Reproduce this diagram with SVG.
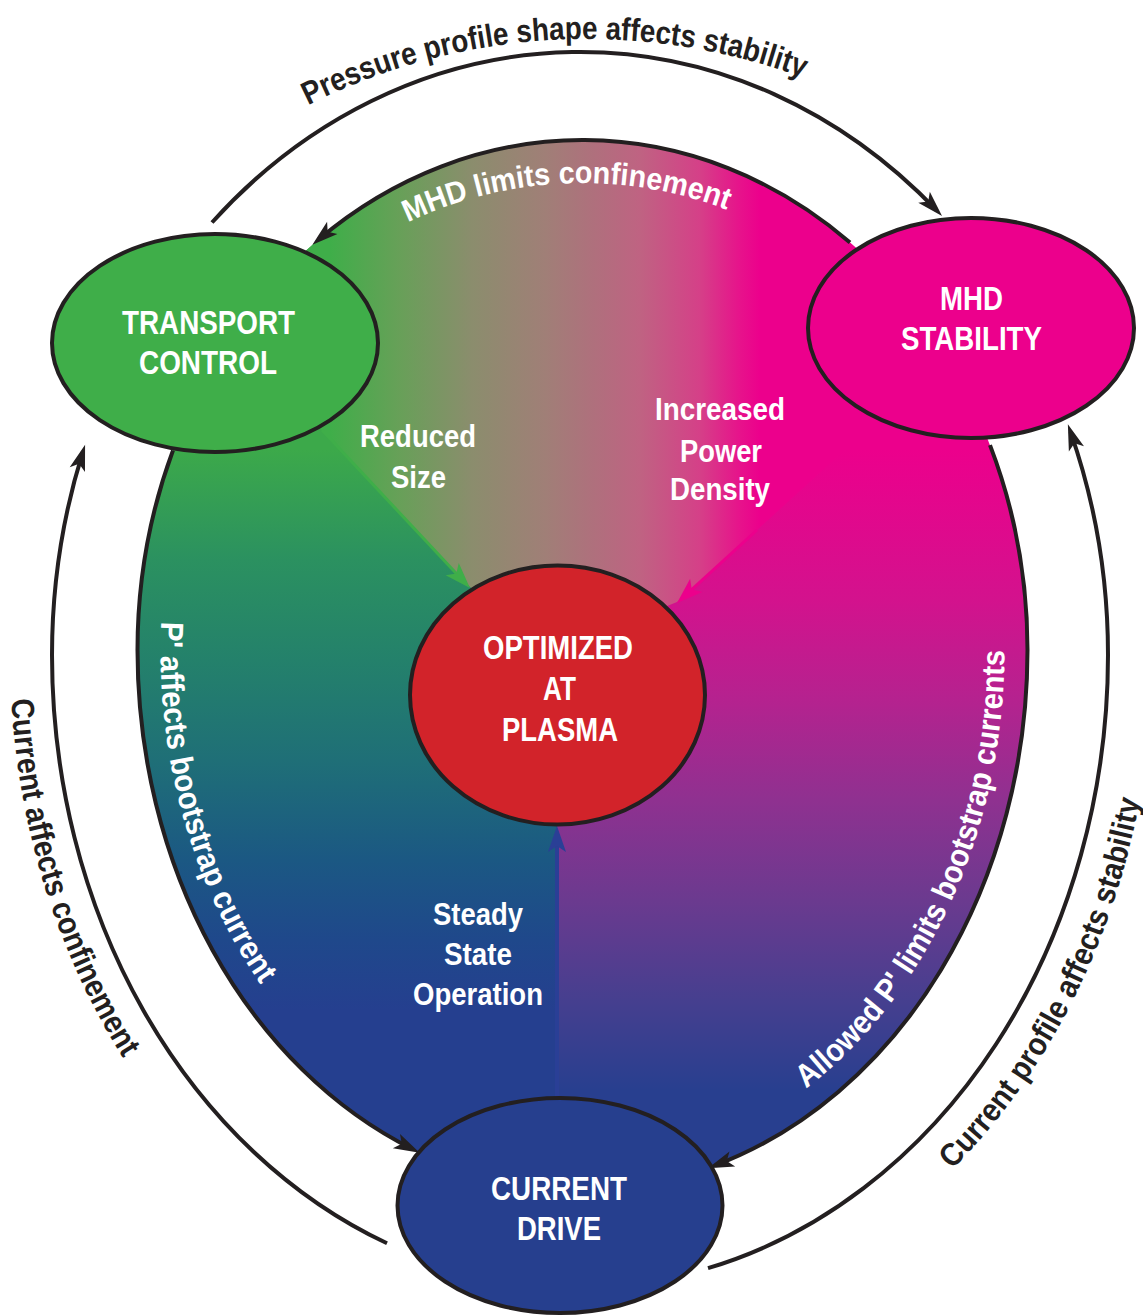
<svg xmlns="http://www.w3.org/2000/svg" width="1143" height="1316" viewBox="0 0 1143 1316">
  <defs>
    <style>
      .node { stroke: #231f20; stroke-width: 4; }
      .label { font-family: "Liberation Sans", Arial, sans-serif; font-weight: bold; font-size: 33px; fill: #ffffff; text-anchor: middle; }
      .inner { font-family: "Liberation Sans", Arial, sans-serif; font-weight: bold; font-size: 31px; fill: #ffffff; text-anchor: middle; }
      .arc { fill: none; stroke: #231f20; stroke-width: 4; marker-end: url(#head); }
      .curved { font-family: "Liberation Sans", Arial, sans-serif; font-weight: bold; font-size: 32px; }
      .dark { fill: #231f20; }
      .light { fill: #ffffff; }
    </style>

    <!-- arrowheads: tip sits 8px past the end of the line -->
    <marker id="head" markerUnits="userSpaceOnUse" viewBox="-20 -10 30 20" markerWidth="30" markerHeight="20" refX="0" refY="0" orient="auto">
      <path d="M8,0 L-18,-8 L-12,0 L-18,8 Z" fill="#231f20"/>
    </marker>
    <marker id="headG" markerUnits="userSpaceOnUse" viewBox="-20 -10 30 20" markerWidth="30" markerHeight="20" refX="0" refY="0" orient="auto">
      <path d="M8,0 L-18,-9 L-12,0 L-18,9 Z" fill="#3fae49"/>
    </marker>
    <marker id="headM" markerUnits="userSpaceOnUse" viewBox="-20 -10 30 20" markerWidth="30" markerHeight="20" refX="0" refY="0" orient="auto">
      <path d="M8,0 L-18,-9 L-12,0 L-18,9 Z" fill="#ec008c"/>
    </marker>
    <marker id="headB" markerUnits="userSpaceOnUse" viewBox="-20 -10 30 20" markerWidth="30" markerHeight="20" refX="0" refY="0" orient="auto">
      <path d="M8,0 L-18,-9 L-12,0 L-18,9 Z" fill="#2a3f96"/>
    </marker>

    <!-- background shading of the three sectors -->
    <linearGradient id="gTop" gradientUnits="userSpaceOnUse" x1="330" y1="0" x2="760" y2="0">
      <stop offset="0" stop-color="#3fae49"/>
      <stop offset="0.16" stop-color="#67a058"/>
      <stop offset="0.33" stop-color="#8b8d6d"/>
      <stop offset="0.5" stop-color="#a07f77"/>
      <stop offset="0.62" stop-color="#b06f7d"/>
      <stop offset="0.72" stop-color="#bf6382"/>
      <stop offset="0.86" stop-color="#d54088"/>
      <stop offset="0.95" stop-color="#e6148b"/>
      <stop offset="1" stop-color="#ec008c"/>
    </linearGradient>
    <linearGradient id="gLeft" gradientUnits="userSpaceOnUse" x1="0" y1="450" x2="0" y2="1010">
      <stop offset="0" stop-color="#3ca94a"/>
      <stop offset="0.196" stop-color="#2b9160"/>
      <stop offset="0.375" stop-color="#24816b"/>
      <stop offset="0.554" stop-color="#1f6f77"/>
      <stop offset="0.732" stop-color="#1b5883"/>
      <stop offset="0.875" stop-color="#1f488b"/>
      <stop offset="1" stop-color="#253f8f"/>
    </linearGradient>
    <linearGradient id="gRight" gradientUnits="userSpaceOnUse" x1="0" y1="450" x2="0" y2="1090">
      <stop offset="0" stop-color="#ec008c"/>
      <stop offset="0.234" stop-color="#d3128d"/>
      <stop offset="0.39" stop-color="#b5228f"/>
      <stop offset="0.547" stop-color="#8f3190"/>
      <stop offset="0.703" stop-color="#6b3a8f"/>
      <stop offset="0.859" stop-color="#463f8f"/>
      <stop offset="1" stop-color="#283f8f"/>
    </linearGradient>

    <clipPath id="ovalClip">
      <path d="M137.5,650 A445,510 0 0 1 1027.5,650 A445,540 0 0 1 137.5,650 Z"/>
    </clipPath>

    <!-- baselines for the curved captions -->
    <path id="pPressure" d="M-34,660 A621,621 0 0 1 1208,660"/>
    <path id="pMhdConf" d="M175,590 A407,407 0 0 1 989,590"/>
    <path id="pPprime" d="M197.7,450 A422,487 0 0 0 160.5,650 A422,517 0 0 0 582.5,1167"/>
    <path id="pAllowed" d="M582.5,1167 A422,517 0 0 0 1004.5,650 A422,487 0 0 0 967.3,450"/>
    <path id="pCurConf" d="M38.1,455 A570,645 0 0 0 10,655 A570,674 0 0 0 580,1329"/>
    <path id="pCurStab" d="M580,1332 A573,677 0 0 0 1153,655 A573,648 0 0 0 1106,455"/>
  </defs>

  <rect x="0" y="0" width="1143" height="1316" fill="#ffffff"/>

  <!-- shaded oval: lower-left and lower-right halves laid first, upper sector on top -->
  <g id="oval-fill" clip-path="url(#ovalClip)">
    <rect x="0" y="0" width="560" height="1316" fill="url(#gLeft)"/>
    <rect x="557" y="0" width="586" height="1316" fill="url(#gRight)"/>
    <path d="M0,0 H1143 V300 L990,300 L880,418 L757,530 L677,602 L558,650 L470,587 L322,430 L215,343 L0,343 Z" fill="url(#gTop)"/>
  </g>

  <g id="connectors">
    <!-- inner arrows into the central node -->
    <path d="M322,430 L464.5,582.2" fill="none" stroke="#3fae49" stroke-width="3" marker-end="url(#headG)"/>
    <path d="M757,530 L682.9,597.6" fill="none" stroke="#ec008c" stroke-width="3" marker-end="url(#headM)"/>
    <path d="M557,1098 L557,834" fill="none" stroke="#2a3f96" stroke-width="4" marker-end="url(#headB)"/>

    <!-- inner oval arcs -->
    <path class="arc" d="M850,242.5 A445,510 0 0 0 318.5,239.5"/>
    <path class="arc" d="M173,450.4 A445,510 0 0 0 137.5,650 A445,540 0 0 0 412.5,1149.1"/>
    <path class="arc" d="M990,445.1 A445,510 0 0 1 1027.5,650 A445,540 0 0 1 715.5,1165.3"/>

    <!-- outer arcs -->
    <path class="arc" d="M212,222.5 A528,603 0 0 1 936.5,210.2"/>
    <path class="arc" d="M387,1243.3 A528,632 0 0 1 52,655 A528,603 0 0 1 82.7,452.4"/>
    <path class="arc" d="M708,1268.2 A528,632 0 0 0 1108,655 A528,603 0 0 0 1070.5,431.8"/>

    <!-- connector captions -->
    <text class="curved dark"><textPath href="#pPressure" startOffset="941" text-anchor="middle" textLength="510" lengthAdjust="spacingAndGlyphs">Pressure profile shape affects stability</textPath></text>
    <text class="curved light" style="font-size:31px"><textPath href="#pMhdConf" startOffset="623" text-anchor="middle" textLength="328" lengthAdjust="spacingAndGlyphs">MHD limits confinement</textPath></text>
    <text class="curved light"><textPath href="#pPprime" startOffset="176" textLength="383" lengthAdjust="spacingAndGlyphs">P' affects bootstrap current</textPath></text>
    <text class="curved light"><textPath href="#pAllowed" startOffset="241" textLength="498" lengthAdjust="spacingAndGlyphs">Allowed P' limits bootstrap currents</textPath></text>
    <text class="curved dark"><textPath href="#pCurConf" startOffset="247" textLength="380" lengthAdjust="spacingAndGlyphs">Current affects confinement</textPath></text>
    <text class="curved dark"><textPath href="#pCurStab" startOffset="417" textLength="421" lengthAdjust="spacingAndGlyphs">Current profile affects stability</textPath></text>

    <text class="inner" x="418" y="447" textLength="116" lengthAdjust="spacingAndGlyphs">Reduced</text>
    <text class="inner" x="418.5" y="488" textLength="55" lengthAdjust="spacingAndGlyphs">Size</text>
    <text class="inner" x="720" y="420" textLength="130" lengthAdjust="spacingAndGlyphs">Increased</text>
    <text class="inner" x="721" y="462" textLength="82" lengthAdjust="spacingAndGlyphs">Power</text>
    <text class="inner" x="720" y="500" textLength="100" lengthAdjust="spacingAndGlyphs">Density</text>
    <text class="inner" x="478" y="925" textLength="90" lengthAdjust="spacingAndGlyphs">Steady</text>
    <text class="inner" x="478" y="965" textLength="68" lengthAdjust="spacingAndGlyphs">State</text>
    <text class="inner" x="478" y="1005" textLength="130" lengthAdjust="spacingAndGlyphs">Operation</text>
  </g>

  <g id="transport-control">
    <ellipse class="node" cx="215" cy="343" rx="163" ry="109" fill="#3fae49"/>
    <text class="label" x="208.5" y="334" textLength="173" lengthAdjust="spacingAndGlyphs">TRANSPORT</text>
    <text class="label" x="208" y="374" textLength="138" lengthAdjust="spacingAndGlyphs">CONTROL</text>
  </g>

  <g id="mhd-stability">
    <ellipse class="node" cx="971" cy="328" rx="163" ry="110" fill="#ec008c"/>
    <text class="label" x="971.5" y="310" textLength="63" lengthAdjust="spacingAndGlyphs">MHD</text>
    <text class="label" x="971.5" y="350" textLength="141" lengthAdjust="spacingAndGlyphs">STABILITY</text>
  </g>

  <g id="optimized-plasma">
    <ellipse class="node" cx="557.5" cy="695" rx="147.5" ry="129.5" fill="#d2232a"/>
    <text class="label" x="558" y="659" textLength="150" lengthAdjust="spacingAndGlyphs">OPTIMIZED</text>
    <text class="label" x="559.5" y="700" textLength="33" lengthAdjust="spacingAndGlyphs">AT</text>
    <text class="label" x="560" y="741" textLength="116" lengthAdjust="spacingAndGlyphs">PLASMA</text>
  </g>

  <g id="current-drive">
    <ellipse class="node" cx="560" cy="1205.5" rx="162.5" ry="107.5" fill="#263f8e"/>
    <text class="label" x="559" y="1200" textLength="136" lengthAdjust="spacingAndGlyphs">CURRENT</text>
    <text class="label" x="559" y="1240" textLength="84" lengthAdjust="spacingAndGlyphs">DRIVE</text>
  </g>
</svg>
